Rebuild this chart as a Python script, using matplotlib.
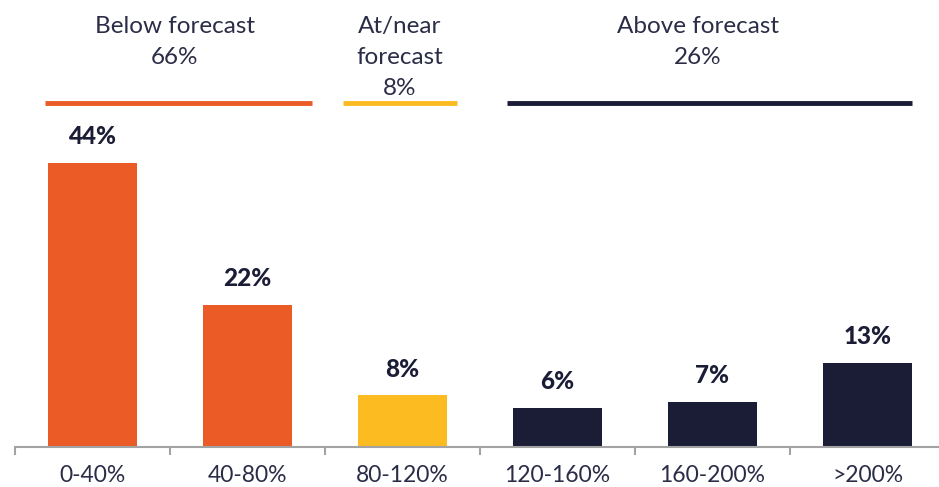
import matplotlib
matplotlib.use("Agg")
import matplotlib.pyplot as plt
import numpy as np

# Data
categories = ["0-40%", "40-80%", "80-120%", "120-160%", "160-200%", ">200%"]
shares = [44, 22, 8, 6, 7, 13]
bar_groups = ["below", "below", "near", "above", "above", "above"]

group_keys = ["below", "near", "above"]
group_titles = ["Below forecast", "At/near\nforecast", "Above forecast"]
group_totals = [66, 8, 26]

# Styling
colors = {"below": "#EA5B25", "near": "#FBBB21", "above": "#1B1C36"}
text_dark = "#1B1C36"
text_light = "#2B2D47"
axis_grey = "#A3A3A3"
plt.rcParams["font.family"] = ["Lato", "DejaVu Sans"]

W, H, DPI = 939, 487, 100
fig = plt.figure(figsize=(W / DPI, H / DPI), dpi=DPI)

px_per_unit = 6.45
base_px = 447
left_px, slot_px = 15, 155
ax = fig.add_axes([left_px / W, (H - base_px) / H, 6 * slot_px / W, base_px / H])
ax.set_xlim(-0.5, 5.5)
ax.set_ylim(0, base_px / px_per_unit)

x = np.arange(len(categories))
ax.bar(x, shares, width=0.575, color=[colors[g] for g in bar_groups], zorder=2)

for xi, v in zip(x, shares):
    ax.annotate(f"{v}%", (xi, v), xytext=(0, 19), textcoords="offset points",
                ha="center", va="center", fontsize=17.5, fontweight="black",
                color=text_dark)

# Spines and ticks
for s in ["top", "right", "left"]:
    ax.spines[s].set_visible(False)
ax.spines["bottom"].set_color(axis_grey)
ax.spines["bottom"].set_linewidth(1.5)
ax.set_yticks([])
ax.set_xticks(x)
ax.set_xticklabels(categories, fontsize=16.5, color=text_light)
ax.tick_params(axis="x", which="major", length=0, pad=13)
ax.set_xticks(np.arange(-0.5, 6.0, 1.0), minor=True)
ax.tick_params(axis="x", which="minor", length=6, width=1.5, color=axis_grey)

# Group brackets and headings
def py(p):
    return (base_px - p) / px_per_unit

def dx(p):
    return (p - left_px) / slot_px - 0.5

line_spans_px = {"below": (45, 312), "near": (343, 457), "above": (507, 912)}
heading_cx_px = {"below": 175, "near": 400, "above": 698}
for key, title, total in zip(group_keys, group_titles, group_totals):
    x0, x1 = line_spans_px[key]
    ax.plot([dx(x0), dx(x1)], [py(103), py(103)], color=colors[key], lw=3.5,
            solid_capstyle="butt", clip_on=False)
    lines = title.split("\n") + [f"{total}%"]
    cx = dx(heading_cx_px[key])
    for i, line in enumerate(lines):
        ax.text(cx, py(26 + 31 * i), line, ha="center", va="center",
                fontsize=17.5, color=text_light)

fig.savefig("out.png", dpi=DPI)
